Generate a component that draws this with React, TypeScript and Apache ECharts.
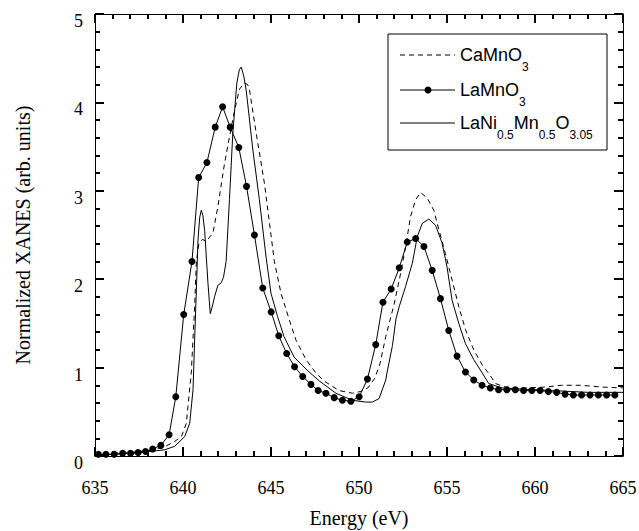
import React, { useEffect, useRef } from "react";
import * as echarts from "echarts";

const xTicks = [635, 640, 645, 650, 655, 660, 665];
const yTicks = [0, 1, 2, 3, 4, 5];

const laMnO3Energy = [635.19,635.62,636.09,636.57,637.02,637.45,637.87,638.28,638.74,639.21,639.59,640.04,640.51,640.89,641.36,641.83,642.25,642.68,643.17,643.61,644.06,644.53,645.01,645.44,645.89,646.34,646.80,647.27,647.68,648.12,648.59,649.06,649.54,650.01,650.48,650.95,651.36,651.83,652.29,652.74,653.22,653.69,654.16,654.63,655.10,655.57,656.05,656.52,656.99,657.46,657.93,658.40,658.88,659.35,659.82,660.29,660.76,661.23,661.71,662.18,662.65,663.13,663.60,664.07,664.54];
const laMnO3Values = [0.02,0.02,0.02,0.03,0.03,0.04,0.05,0.08,0.12,0.24,0.67,1.60,2.20,3.15,3.32,3.72,3.95,3.72,3.49,3.05,2.50,1.90,1.63,1.36,1.16,1.01,0.90,0.81,0.74,0.71,0.66,0.63,0.62,0.67,0.87,1.26,1.74,1.89,2.13,2.42,2.46,2.37,2.10,1.78,1.42,1.13,0.95,0.86,0.80,0.77,0.75,0.75,0.75,0.74,0.74,0.74,0.73,0.72,0.70,0.69,0.69,0.69,0.69,0.69,0.69];

const caMnO3Energy = [635.0,636.0,637.0,638.0,638.5,639.0,639.5,639.91,640.19,640.28,640.47,640.66,640.76,640.9,641.1,641.32,641.7,641.98,642.36,642.64,642.93,643.21,643.49,643.68,643.78,644.16,644.63,645.19,645.57,646.04,646.42,646.99,647.55,648.0,648.87,649.63,650.1,650.5,650.9,651.2,651.52,652.0,652.37,652.65,652.93,653.22,653.5,653.87,654.25,654.54,654.91,655.29,655.67,656.05,656.52,657.0,657.46,657.75,658.31,659.45,660.58,661.52,662.65,663.78,665.0];
const caMnO3Values = [0.02,0.03,0.04,0.06,0.08,0.11,0.16,0.22,0.37,0.56,0.94,1.69,2.2,2.4,2.45,2.43,2.52,2.82,3.31,3.61,3.91,4.15,4.22,4.20,4.14,3.65,3.08,2.20,1.84,1.54,1.31,1.09,0.94,0.85,0.74,0.71,0.73,0.77,0.88,1.05,1.35,1.72,2.07,2.37,2.71,2.90,2.98,2.92,2.78,2.56,2.29,1.99,1.69,1.43,1.20,1.03,0.91,0.82,0.78,0.77,0.78,0.80,0.80,0.78,0.77];

const laNiEnergy = [635.0,636.0,637.0,638.0,638.5,638.96,639.53,640.1,640.38,640.57,640.66,640.76,640.85,640.95,641.04,641.13,641.23,641.42,641.55,641.65,641.79,641.98,642.17,642.3,642.45,642.64,642.83,643.06,643.2,643.31,643.45,643.59,643.97,644.34,644.72,645.0,645.37,645.74,646.31,647.06,647.74,648.69,649.63,650.39,650.76,651.14,651.52,651.6,651.9,652.1,652.3,652.65,653.03,653.31,653.59,653.97,654.35,654.72,655.0,655.29,655.67,656.05,656.52,657.0,657.37,658.12,659.0,660.0,661.0,662.0,663.0,665.0];
const laNiValues = [0.01,0.02,0.03,0.05,0.06,0.07,0.11,0.22,0.37,0.75,1.31,1.88,2.44,2.70,2.78,2.72,2.55,1.95,1.61,1.68,1.80,1.93,1.96,2.02,2.2,2.90,3.65,4.22,4.37,4.40,4.30,4.14,3.46,2.90,2.25,1.84,1.58,1.35,1.12,0.97,0.85,0.71,0.63,0.61,0.61,0.65,0.86,0.95,1.25,1.55,1.70,1.92,2.18,2.48,2.63,2.68,2.61,2.41,2.14,1.76,1.50,1.27,1.09,0.94,0.82,0.77,0.76,0.75,0.74,0.73,0.72,0.72];

// legend entries: [text, isSubscript] pieces
const legendEntries: [string, boolean][][] = [
  [["CaMnO", false], ["3", true]],
  [["LaMnO", false], ["3", true]],
  [["LaNi", false], ["0.5", true], ["Mn", false], ["0.5", true], ["O", false], ["3.05", true]],
];

const zip = (xs: number[], ys: number[]) => xs.map((x, i) => [x, ys[i]]);

const GRID = { left: 95, right: 16, top: 14, bottom: 75 };
const W = 639;
const H = 531;

export default function App() {
  const ref = useRef<HTMLDivElement>(null);
  useEffect(() => {
    if (!ref.current) return;
    const chart = echarts.init(ref.current, undefined, { renderer: "svg" });
    const serif = "'Liberation Serif', 'Times New Roman', serif";
    const sans = "'Liberation Sans', Arial, sans-serif";
    const mainSize = 18;
    const subSize = 12;
    const ctx = document.createElement("canvas").getContext("2d");
    const measure = (t: string, size: number) => {
      if (!ctx) return t.length * size * 0.55;
      ctx.font = `${size}px ${sans}`;
      return ctx.measureText(t).width;
    };
    const axisCommon = () => ({
      axisLine: { show: true, onZero: false, lineStyle: { color: "#000", width: 1 } },
      axisTick: { show: true, inside: true, length: 9, lineStyle: { color: "#000", width: 2 } },
      minorTick: { show: true, splitNumber: 5, length: 5, lineStyle: { color: "#000", width: 2 } },
      splitLine: { show: false },
      minorSplitLine: { show: false },
    });
    const emptyLabel = { show: true, formatter: () => "", margin: 0 };
    const xRange = { type: "value", min: xTicks[0], max: xTicks[xTicks.length - 1], interval: 5 };
    const yRange = { type: "value", min: yTicks[0], max: yTicks[yTicks.length - 1], interval: 1 };

    const legendY = [55, 90, 123];
    const lx0 = 400, lx1 = 455;
    const graphics: any[] = [
      {
        type: "rect",
        shape: { x: 388, y: 34, width: 219, height: 116 },
        style: { fill: "#fff", stroke: "#000", lineWidth: 1 },
        z: 10,
      },
      {
        type: "line",
        shape: { x1: lx0, y1: legendY[0], x2: lx1, y2: legendY[0] },
        style: { stroke: "#000", lineWidth: 1, lineDash: [5, 4] },
        z: 11,
      },
      {
        type: "line",
        shape: { x1: lx0, y1: legendY[1], x2: lx1, y2: legendY[1] },
        style: { stroke: "#000", lineWidth: 1 },
        z: 11,
      },
      {
        type: "circle",
        shape: { cx: 428, cy: legendY[1], r: 3.5 },
        style: { fill: "#000" },
        z: 11,
      },
      {
        type: "line",
        shape: { x1: lx0, y1: legendY[2], x2: lx1, y2: legendY[2] },
        style: { stroke: "#000", lineWidth: 1 },
        z: 11,
      },
    ];
    legendEntries.forEach((pieces, i) => {
      let x = 460;
      pieces.forEach(([t, sub]) => {
        const size = sub ? subSize : mainSize;
        graphics.push({
          type: "text",
          x,
          y: legendY[i] + (sub ? 12 : 0),
          z: 11,
          style: {
            text: t,
            fontSize: size,
            fontFamily: sans,
            fill: "#000",
            align: "left",
            verticalAlign: "middle",
            textAlign: "left",
            textVerticalAlign: "middle",
          },
        });
        x += measure(t, size);
      });
    });

    chart.setOption({
      animation: false,
      backgroundColor: "#fff",
      grid: { ...GRID, containLabel: false, outerBoundsMode: "none" },
      xAxis: [
        {
          ...xRange,
          position: "bottom",
          name: "Energy (eV)",
          nameLocation: "middle",
          nameGap: 52,
          nameTextStyle: { fontFamily: serif, fontSize: 20, color: "#000" },
          axisLabel: { show: true, fontFamily: serif, fontSize: 18, color: "#000", margin: 23 },
          ...axisCommon(),
        },
        {
          ...xRange,
          position: "top",
          axisLabel: emptyLabel,
          ...axisCommon(),
        },
      ],
      yAxis: [
        {
          ...yRange,
          position: "left",
          name: "Normalized XANES (arb. units)",
          nameLocation: "middle",
          nameGap: 62,
          nameRotate: 90,
          nameTextStyle: { fontFamily: serif, fontSize: 20, color: "#000" },
          axisLabel: {
            show: true,
            fontFamily: serif,
            fontSize: 18,
            color: "#000",
            margin: 12,
            verticalAlign: "top",
            lineHeight: 14,
          },
          ...axisCommon(),
        },
        {
          ...yRange,
          position: "right",
          axisLabel: emptyLabel,
          ...axisCommon(),
        },
      ],
      series: [
        {
          name: "CaMnO3",
          type: "line",
          xAxisIndex: 0,
          yAxisIndex: 0,
          data: zip(caMnO3Energy, caMnO3Values),
          showSymbol: false,
          symbol: "none",
          lineStyle: { color: "#000", width: 1, type: [5, 4] },
        },
        {
          name: "LaMnO3",
          type: "line",
          xAxisIndex: 0,
          yAxisIndex: 0,
          data: zip(laMnO3Energy, laMnO3Values),
          symbol: "circle",
          symbolSize: 7,
          itemStyle: { color: "#000" },
          lineStyle: { color: "#000", width: 1 },
        },
        {
          name: "LaNi0.5Mn0.5O3.05",
          type: "line",
          xAxisIndex: 0,
          yAxisIndex: 0,
          data: zip(laNiEnergy, laNiValues),
          showSymbol: false,
          symbol: "none",
          lineStyle: { color: "#000", width: 1 },
        },
      ],
      graphic: graphics,
    });
    return () => chart.dispose();
  }, []);
  return (
    <div
      ref={ref}
      style={{ position: "fixed", left: 0, top: 0, width: W, height: H, background: "#fff" }}
    />
  );
}
